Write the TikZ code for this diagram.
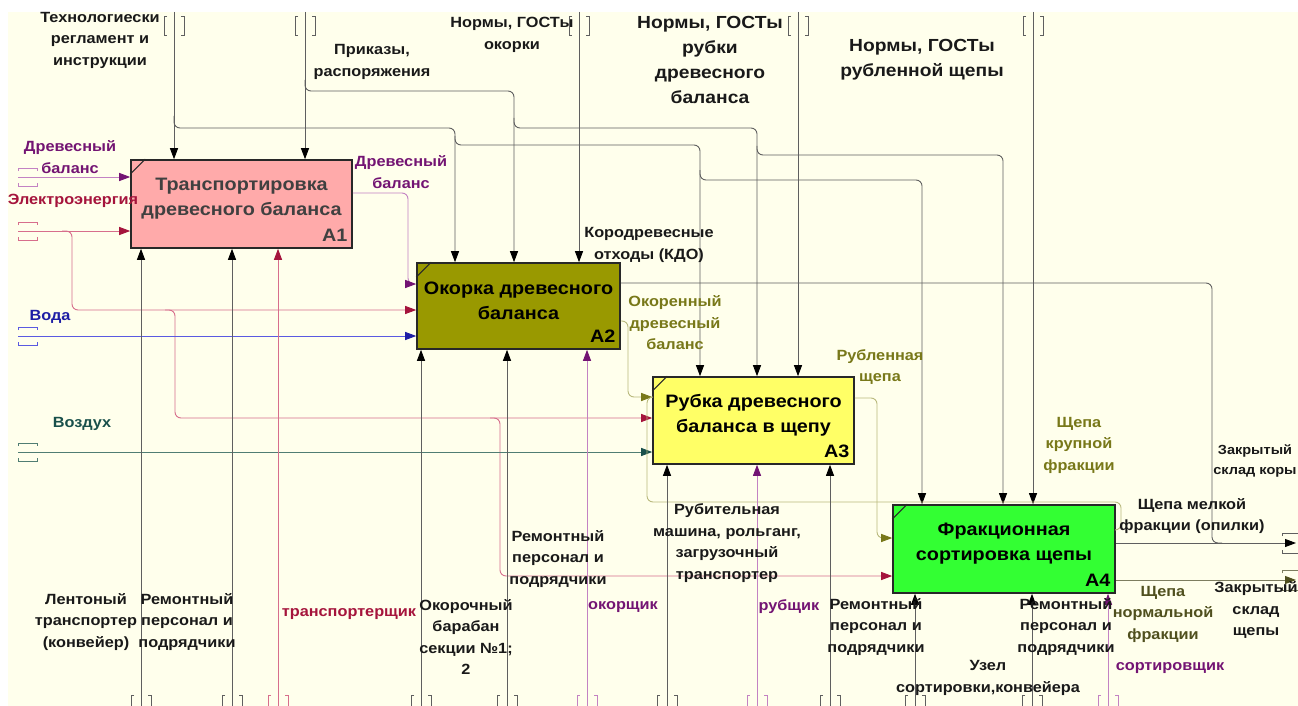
\documentclass[tikz,border=0pt]{standalone}
\usepackage{fontspec}
\setmainfont{Liberation Sans}[FakeStretch=1.1]
\usetikzlibrary{arrows.meta}

\definecolor{paper}{RGB}{255,255,236}
\definecolor{frame}{RGB}{40,40,40}
\definecolor{fillA}{RGB}{255,170,170}
\definecolor{fillB}{RGB}{153,153,0}
\definecolor{fillC}{RGB}{255,255,102}
\definecolor{fillD}{RGB}{51,255,51}
% label ink / line colours per arrow kind
\definecolor{inkK}{RGB}{25,25,25}
\definecolor{lineK}{RGB}{95,95,95}
\definecolor{inkP}{RGB}{115,20,115}
\definecolor{lineP}{RGB}{195,130,195}
\definecolor{inkR}{RGB}{165,20,60}
\definecolor{lineR}{RGB}{215,110,140}
\definecolor{inkB}{RGB}{30,30,165}
\definecolor{lineB}{RGB}{90,90,225}
\definecolor{inkT}{RGB}{25,80,75}
\definecolor{lineT}{RGB}{80,125,115}
\definecolor{inkO}{RGB}{120,120,25}
\definecolor{lineO}{RGB}{185,185,125}
\definecolor{inkD}{RGB}{80,80,30}
\definecolor{lineD}{RGB}{125,125,95}

\begin{document}
\begin{tikzpicture}[x=1pt, y=-1pt, line width=0.9pt,
  func/.style={draw=frame, line width=1.6pt, inner sep=0pt},
  ftitle/.style={align=center, inner sep=0pt, font=\bfseries\fontsize{18}{25}\selectfont},
  fid/.style={anchor=south east, inner xsep=5pt, inner ysep=7pt, font=\bfseries\fontsize{18}{18}\selectfont},
  lbl/.style={align=center, inner sep=0pt, font=\bfseries\fontsize{14.8}{21.5}\selectfont},
  biglbl/.style={align=center, inner sep=0pt, font=\bfseries\fontsize{17.5}{25}\selectfont},
  wire/.style={draw=#1, rounded corners=6pt},
  head/.style={-{Triangle[length=11pt,width=8pt,color=#1]}},
  tick/.style={draw=#1, line width=0.8pt}]

  \useasboundingbox (0,0) rectangle (1298,706);
  \fill[white] (0,0) rectangle (1298,706);
  \begin{scope}
  \clip (0,0) rectangle (1298,706);
  \fill[paper] (8,12) rectangle (1298,706);

  % ---------- tunnel ends on the border ----------
  \coordinate (tTech)   at (174,12);
  \coordinate (tOrders) at (305,12);
  \coordinate (tNormB)  at (579,12);
  \coordinate (tNormC)  at (798,12);
  \coordinate (tNormD)  at (1033,12);
  \coordinate (iWood)   at (18,177);
  \coordinate (iPower)  at (18,231);
  \coordinate (iWater)  at (18,336);
  \coordinate (iAir)    at (18,452);
  \coordinate (oFine)   at (1296,543);
  \coordinate (oNormal) at (1296,580);
  \coordinate (mBelt)    at (141,706);
  \coordinate (mRep1)    at (232,706);
  \coordinate (mTransp)  at (278,706);
  \coordinate (mDrum)    at (421,706);
  \coordinate (mRep2)    at (507,706);
  \coordinate (mBarker)  at (587,706);
  \coordinate (mChipper) at (667,706);
  \coordinate (mChopper) at (757,706);
  \coordinate (mRep3)    at (830,706);
  \coordinate (mSortU)   at (915,706);
  \coordinate (mRep4)    at (1032,706);
  \coordinate (mSorter)  at (1108,706);

  % ---------- function boxes ----------
  \node[func, fill=fillA, minimum width=221pt, minimum height=88pt] (a1) at (241.5,204) {};
  \node[func, fill=fillB, minimum width=203pt, minimum height=86pt] (a2) at (518.5,306) {};
  \node[func, fill=fillC, minimum width=201pt, minimum height=87pt] (a3) at (753.5,420.5) {};
  \node[func, fill=fillD, minimum width=222pt, minimum height=88pt] (a4) at (1004,549) {};

  % ---------- controls ----------
  \draw[wire=lineK, head=black] (tTech) -- (tTech |- a1.north);
  \draw[wire=lineK, head=black] (174,116) -- (174,128) -- (455,128) -- (455,128 |- a2.north);
  \draw[wire=lineK, head=black] (455,136) -- (455,145) -- (700,145) -- (700,145 |- a3.north);
  \draw[wire=lineK, head=black] (700,170) -- (700,180) -- (922,180) -- (922,180 |- a4.north);
  \draw[wire=lineK, head=black] (tOrders) -- (tOrders |- a1.north);
  \draw[wire=lineK, head=black] (305,80) -- (305,91) -- (514,91) -- (514,91 |- a2.north);
  \draw[wire=lineK, head=black] (514,118) -- (514,128) -- (757,128) -- (757,128 |- a3.north);
  \draw[wire=lineK, head=black] (757,146) -- (757,155) -- (1003,155) -- (1003,155 |- a4.north);
  \draw[wire=lineK, head=black] (tNormB) -- (tNormB |- a2.north);
  \draw[wire=lineK, head=black] (tNormC) -- (tNormC |- a3.north);
  \draw[wire=lineK, head=black] (tNormD) -- (tNormD |- a4.north);

  % ---------- inputs ----------
  \draw[wire=lineP, head=inkP] (iWood) -- (iWood -| a1.west);
  \draw[wire=lineR, head=inkR] (iPower) -- (iPower -| a1.west);
  \draw[wire=lineR, head=inkR] (62,231) -- (72,231) -- (72,310) -- (a2.west |- 0,310);
  \draw[wire=lineR, head=inkR] (165,310) -- (175,310) -- (175,418) -- (a3.west |- 0,418);
  \draw[wire=lineR, head=inkR] (490,418) -- (500,418) -- (500,576) -- (a4.west |- 0,576);
  \draw[wire=lineB, head=inkB] (iWater) -- (iWater -| a2.west);
  \draw[wire=lineT, head=inkT] (iAir) -- (iAir -| a3.west);

  % ---------- outputs between boxes ----------
  \draw[wire=lineP, head=inkP] (a1.east |- 0,193) -- (408,193) -- (408,284) -- (a2.west |- 0,284);
  \draw[wire=lineK] (a2.east |- 0,283) -- (1212,283) -- (1212,543) -- (1222,543);
  \draw[wire=lineO, head=inkO] (a2.east |- 0,321) -- (628,321) -- (628,397) -- (a3.west |- 0,397);
  \draw[wire=lineO, head=inkO] (a3.east |- 0,398) -- (877,398) -- (877,538) -- (a4.west |- 0,538);
  \draw[wire=lineO] (a4.east |- 0,530) -- (1121,530) -- (1121,502) -- (647,502) -- (647,397) -- (653,397);
  \draw[wire=lineK, head=black] (a4.east |- 0,543) -- (oFine);
  \draw[wire=lineD, head=inkD] (a4.east |- 0,580) -- (oNormal);

  % ---------- mechanisms ----------
  \foreach \m/\b/\c/\h in {mBelt/a1/lineK/black, mRep1/a1/lineK/black, mTransp/a1/lineR/inkR,
      mDrum/a2/lineK/black, mRep2/a2/lineK/black, mBarker/a2/lineP/inkP,
      mChipper/a3/lineK/black, mChopper/a3/lineP/inkP, mRep3/a3/lineK/black,
      mSortU/a4/lineK/black, mRep4/a4/lineK/black, mSorter/a4/lineP/inkP}
    \draw[wire=\c, head=\h] (\m) -- (\m |- \b.south);

  % ---------- tunnel brackets ----------
  \foreach \x in {174,305,579,798,1033}
    \draw[tick=lineK] (\x-7,16) -- (\x-10,16) -- (\x-10,35) -- (\x-7,35)
                      (\x+7,16) -- (\x+10,16) -- (\x+10,35) -- (\x+7,35);
  \foreach \x/\c in {141/lineK, 232/lineK, 278/lineR, 421/lineK, 507/lineK, 587/lineP,
                     667/lineK, 757/lineP, 830/lineK, 915/lineK, 1032/lineK, 1108/lineP}
    \draw[tick=\c] (\x-7,695) -- (\x-10,695) -- (\x-10,712)
                   (\x+7,695) -- (\x+10,695) -- (\x+10,712);
  \foreach \y/\c in {177/lineP, 231/lineR, 336/lineB, 452/lineT}
    \draw[tick=\c] (18,\y-6) -- (18,\y-9) -- (37,\y-9) -- (37,\y-6)
                   (18,\y+6) -- (18,\y+9) -- (37,\y+9) -- (37,\y+6);
  \foreach \y/\c in {543/lineK, 580/lineD}
    \draw[tick=\c] (1282,\y-7) -- (1282,\y-10) -- (1300,\y-10)
                   (1282,\y+7) -- (1282,\y+10) -- (1300,\y+10);

  % ---------- box corner marks, titles, numbers ----------
  \foreach \b in {a1,a2,a3,a4}
    \draw[frame, line width=1pt] (\b.north west) ++(0,15) -- ++(15,-15);
  \node[ftitle, text=black!75] (t1) at ([yshift=5pt]a1.center) {Транспортировка\\древесного баланса};
  \node[ftitle] (t2) at ([yshift=5pt]a2.center) {Окорка древесного\\баланса};
  \node[ftitle] (t3) at ([yshift=5pt]a3.center) {Рубка древесного\\баланса в щепу};
  \node[ftitle] (t4) at ([yshift=5pt]a4.center) {Фракционная\\сортировка щепы};
  \node[fid, text=black!75] (n1) at (a1.south east) {А1};
  \node[fid] (n2) at (a2.south east) {А2};
  \node[fid] (n3) at (a3.south east) {А3};
  \node[fid] (n4) at (a4.south east) {А4};

  % ---------- arrow labels ----------
  \node[lbl, text=inkK] (lTech) at (100,40) {Технологиески\\регламент и\\инструкции};
  \node[lbl, text=inkK] (lOrders) at (372,62) {Приказы,\\распоряжения};
  \node[lbl, text=inkK] (lNormB) at (512,35) {Нормы, ГОСТы\\окорки};
  \node[biglbl, text=inkK] (lNormC) at (710,60) {Нормы, ГОСТы\\рубки\\древесного\\баланса};
  \node[biglbl, text=inkK] (lNormD) at (922,60) {Нормы, ГОСТы\\рубленной щепы};

  \node[lbl, text=inkP] (lWoodIn) at (70,157) {Древесный\\баланс};
  \node[lbl, text=inkR] (lPower) at (73,201) {Электроэнергия};
  \node[lbl, text=inkB] (lWater) at (50,317) {Вода};
  \node[lbl, text=inkT] (lAir) at (82,424) {Воздух};

  \node[lbl, text=inkP] (lWoodOut) at (401,172) {Древесный\\баланс};
  \node[lbl, text=inkK] (lBark) at (649,245) {Кородревесные\\отходы (КДО)};
  \node[lbl, text=inkO] (lDebarked) at (675,323) {Окоренный\\древесный\\баланс};
  \node[lbl, text=inkO] (lChips) at (880,367) {Рубленная\\щепа};
  \node[lbl, text=inkO] (lCoarse) at (1079,445) {Щепа\\крупной\\фракции};
  \node[lbl, text=inkK, font=\bfseries\fontsize{13.2}{20}\selectfont] (lBarkStore) at (1255,461) {Закрытый\\склад коры};
  \node[lbl, text=inkK] (lFine) at (1192,516) {Щепа мелкой\\фракции (опилки)};
  \node[lbl, text=inkD] (lNormal) at (1163,614) {Щепа\\нормальной\\фракции};
  \node[lbl, text=inkK] (lChipStore) at (1256,610) {Закрытый\\склад\\щепы};

  \node[lbl, text=inkK] (lBelt) at (86,622) {Лентоный\\транспортер\\(конвейер)};
  \node[lbl, text=inkK] (lRep1) at (187,622) {Ремонтный\\персонал и\\подрядчики};
  \node[lbl, text=inkR] (lTransp) at (349,614) {транспортерщик};
  \node[lbl, text=inkK] (lDrum) at (466,637) {Окорочный\\барабан\\секции №1;\\2};
  \node[lbl, text=inkK] (lRep2) at (558,559) {Ремонтный\\персонал и\\подрядчики};
  \node[lbl, text=inkP] (lBarker) at (623,607) {окорщик};
  \node[lbl, text=inkK] (lChipper) at (727,543) {Рубительная\\машина, рольганг,\\загрузочный\\транспортер};
  \node[lbl, text=inkP] (lChopper) at (789,607) {рубщик};
  \node[lbl, text=inkK] (lRep3) at (876,627) {Ремонтный\\персонал и\\подрядчики};
  \node[lbl, text=inkK] (lSortU) at (988,678) {Узел\\сортировки,конвейера};
  \node[lbl, text=inkK] (lRep4) at (1066,627) {Ремонтный\\персонал и\\подрядчики};
  \node[lbl, text=inkP] (lSorter) at (1170,668) {сортировщик};
  \end{scope}

\end{tikzpicture}
\end{document}
